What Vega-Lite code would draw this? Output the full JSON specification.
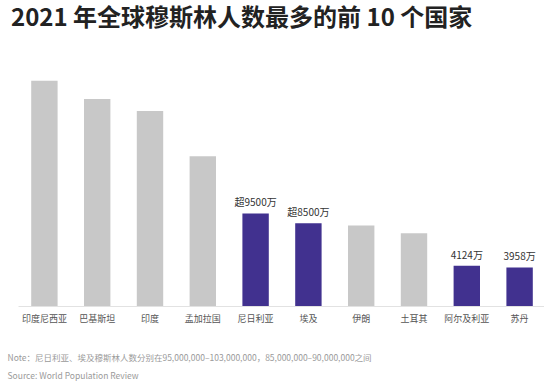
{
  "$schema": "https://vega.github.io/schema/vega-lite/v6.json",
  "autosize": "none",
  "width": 528,
  "height": 234,
  "padding": {"left": 18, "top": 72, "right": 0, "bottom": 80},
  "background": "#ffffff",
  "config": {
    "view": {"stroke": null},
    "font": "Noto Sans CJK SC"
  },
  "title": {
    "text": "2021 年全球穆斯林人数最多的前 10 个国家",
    "anchor": "start",
    "frame": "group",
    "dx": -7,
    "offset": 41,
    "fontSize": 24,
    "fontWeight": "bold",
    "color": "#222222",
    "font": "Noto Sans CJK SC"
  },
  "data": {
    "values": [
      {"country": "印度尼西亚", "value": 231.0, "group": "other", "label": ""},
      {"country": "巴基斯坦", "value": 212.3, "group": "other", "label": ""},
      {"country": "印度", "value": 200.0, "group": "other", "label": ""},
      {"country": "孟加拉国", "value": 153.7, "group": "other", "label": ""},
      {"country": "尼日利亚", "value": 95.0, "group": "highlight", "label": "超9500万"},
      {"country": "埃及", "value": 85.0, "group": "highlight", "label": "超8500万"},
      {"country": "伊朗", "value": 82.5, "group": "other", "label": ""},
      {"country": "土耳其", "value": 74.7, "group": "other", "label": ""},
      {"country": "阿尔及利亚", "value": 41.24, "group": "highlight", "label": "4124万"},
      {"country": "苏丹", "value": 39.58, "group": "highlight", "label": "3958万"}
    ]
  },
  "encoding": {
    "x": {
      "field": "country",
      "type": "nominal",
      "sort": null,
      "scale": {"paddingInner": 0.5, "paddingOuter": 0.25},
      "axis": {
        "title": ["Note：尼日利亚、埃及穆斯林人数分别在95,000,000–103,000,000，85,000,000–90,000,000之间", "Source:    World Population Review"],
        "titleFont": "Noto Sans CJK SC",
        "titleFontSize": 8.5,
        "titleFontWeight": "normal",
        "titleColor": "#9a9a9a",
        "titleAnchor": "start",
        "titleAlign": "left",
        "titleBaseline": "top",
        "titleX": -11,
        "titleY": 47,
        "titleLineHeight": 18,
        "labelAngle": 0,
        "labelFont": "Noto Sans CJK SC",
        "labelFontSize": 9,
        "labelColor": "#555555",
        "labelPadding": 8,
        "ticks": false,
        "domainColor": "#e2e2e2",
        "domainWidth": 1,
        "grid": false
      }
    },
    "y": {
      "field": "value",
      "type": "quantitative",
      "scale": {"domain": [0, 240]},
      "axis": null
    }
  },
  "layer": [
    {
      "mark": {"type": "bar"},
      "encoding": {
        "color": {
          "field": "group",
          "type": "nominal",
          "scale": {"domain": ["highlight", "other"], "range": ["#41318f", "#c8c8c8"]},
          "legend": null
        }
      }
    },
    {
      "transform": [{"filter": "datum.label != ''"}],
      "mark": {"type": "text", "baseline": "bottom", "dy": -5, "fontSize": 10, "color": "#333333", "font": "Noto Sans CJK SC"},
      "encoding": {
        "text": {"field": "label"}
      }
    }
  ]
}
